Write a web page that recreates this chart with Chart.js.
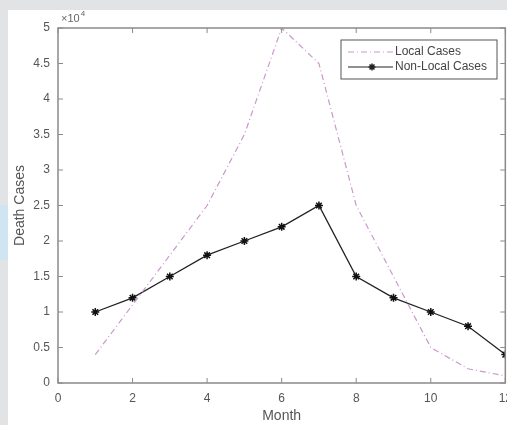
<!DOCTYPE html>
<html>
<head>
<meta charset="utf-8">
<style>
  html, body { margin: 0; padding: 0; overflow: hidden; background: #e2e3e4; }
  #wrap { position: relative; width: 512px; height: 425px; }
</style>
</head>
<body>
<div id="wrap"><canvas id="deathChart"></canvas></div>
<script src="https://cdn.jsdelivr.net/npm/chart.js"></script>
<script>
// months and death cases
const months = [1, 2, 3, 4, 5, 6, 7, 8, 9, 10, 11, 12];
const localCases = [4000, 11000, 18000, 25000, 35000, 50000, 45000, 25000, 15000, 5000, 2000, 1000];
const nonLocalCases = [10000, 12000, 15000, 18000, 20000, 22000, 25000, 15000, 12000, 10000, 8000, 4000];
const legendLabels = ['Local Cases', 'Non-Local Cases'];

const pink = 'rgb(205,150,205)';
const axisGrey = '#8a8a8a';
const font = '"Liberation Sans", Arial, sans-serif';

// white sheet, box round the plot, inward ticks, x10^4 and the legend
const matlabAxes = {
  id: 'matlabAxes',
  beforeDraw(chart) {
    const ctx = chart.ctx;
    ctx.save();
    ctx.fillStyle = '#ffffff';
    ctx.fillRect(8, 10, chart.width, chart.height);
    ctx.fillStyle = '#cfe6f2';
    ctx.fillRect(0, 205, 8, 55);
    ctx.restore();
  },
  afterDraw(chart) {
    const ctx = chart.ctx;
    const a = chart.chartArea;
    const x = chart.scales.x, y = chart.scales.y;
    ctx.save();
    ctx.strokeStyle = axisGrey;
    ctx.lineWidth = 1.5;
    ctx.strokeRect(a.left, a.top, a.right - a.left, a.bottom - a.top);
    ctx.lineWidth = 1;
    ctx.beginPath();
    x.ticks.forEach(t => {
      const px = x.getPixelForValue(t.value);
      ctx.moveTo(px, a.bottom); ctx.lineTo(px, a.bottom - 5);
      ctx.moveTo(px, a.top); ctx.lineTo(px, a.top + 5);
    });
    y.ticks.forEach(t => {
      const py = y.getPixelForValue(t.value);
      ctx.moveTo(a.left, py); ctx.lineTo(a.left + 5, py);
      ctx.moveTo(a.right, py); ctx.lineTo(a.right - 5, py);
    });
    ctx.stroke();

    // exponent
    ctx.fillStyle = '#666';
    ctx.font = '11px ' + font;
    ctx.textBaseline = 'alphabetic';
    ctx.fillText('\u00d710', a.left + 3, a.top - 6);
    const w = ctx.measureText('\u00d710').width;
    ctx.font = '8px ' + font;
    ctx.fillText('4', a.left + 4 + w, a.top - 12);

    // legend
    const lx = 341, ly = 40, lw = 156, lh = 39;
    ctx.fillStyle = '#fff';
    ctx.fillRect(lx, ly, lw, lh);
    ctx.strokeStyle = '#555';
    ctx.lineWidth = 1;
    ctx.strokeRect(lx, ly, lw, lh);
    const rows = [ly + 12, ly + 27];
    // local
    ctx.strokeStyle = pink;
    ctx.setLineDash([6, 3, 1, 3]);
    ctx.beginPath(); ctx.moveTo(lx + 7, rows[0]); ctx.lineTo(lx + 52, rows[0]); ctx.stroke();
    ctx.setLineDash([]);
    // non-local
    ctx.strokeStyle = '#222';
    ctx.beginPath(); ctx.moveTo(lx + 7, rows[1]); ctx.lineTo(lx + 52, rows[1]); ctx.stroke();
    ctx.beginPath();
    const cx = lx + 31, cy = rows[1], r = 3.5;
    for (let k = 0; k < 4; k++) {
      const ang = k * Math.PI / 4;
      ctx.moveTo(cx - r * Math.cos(ang), cy - r * Math.sin(ang));
      ctx.lineTo(cx + r * Math.cos(ang), cy + r * Math.sin(ang));
    }
    ctx.lineWidth = 1.5;
    ctx.stroke();
    ctx.fillStyle = '#444';
    ctx.font = '12px ' + font;
    ctx.textBaseline = 'middle';
    ctx.fillText(legendLabels[0], lx + 54, rows[0]);
    ctx.fillText(legendLabels[1], lx + 54, rows[1]);
    ctx.restore();
  }
};

new Chart(document.getElementById('deathChart'), {
  type: 'line',
  data: {
    labels: months,
    datasets: [{
      label: legendLabels[0],
      data: months.map((m, i) => ({ x: m, y: localCases[i] })),
      borderColor: pink,
      borderWidth: 1.2,
      borderDash: [6, 3, 1, 3],
      pointRadius: 0,
      tension: 0
    }, {
      label: legendLabels[1],
      data: months.map((m, i) => ({ x: m, y: nonLocalCases[i] })),
      borderColor: '#222',
      borderWidth: 1.3,
      pointStyle: 'star',
      pointRadius: 4,
      pointBorderWidth: 1.5,
      pointBorderColor: '#111',
      tension: 0
    }]
  },
  options: {
    responsive: true,
    maintainAspectRatio: false,
    animation: false,
    layout: { padding: { left: 0, top: 28, right: 4, bottom: 0 } },
    plugins: { legend: { display: false }, tooltip: { enabled: false } },
    scales: {
      x: {
        type: 'linear',
        min: 0, max: 12,
        ticks: { stepSize: 2, color: '#555', font: { family: font, size: 12 }, padding: 0 },
        grid: { display: false },
        border: { display: false },
        title: { display: true, text: 'Month', color: '#555', font: { family: font, size: 14 }, padding: { top: 0, bottom: 0 } },
        afterFit(s) { s.height = 42; }
      },
      y: {
        min: 0, max: 50000,
        ticks: { stepSize: 5000, color: '#555', font: { family: font, size: 12 }, padding: 0,
          callback: v => v / 10000 },
        grid: { display: false },
        border: { display: false },
        title: { display: true, text: 'Death Cases', color: '#555', font: { family: font, size: 14 }, padding: { top: 12, bottom: 0 } },
        afterFit(s) { s.width = 58; }
      }
    }
  },
  plugins: [matlabAxes]
});
</script>
</body>
</html>
